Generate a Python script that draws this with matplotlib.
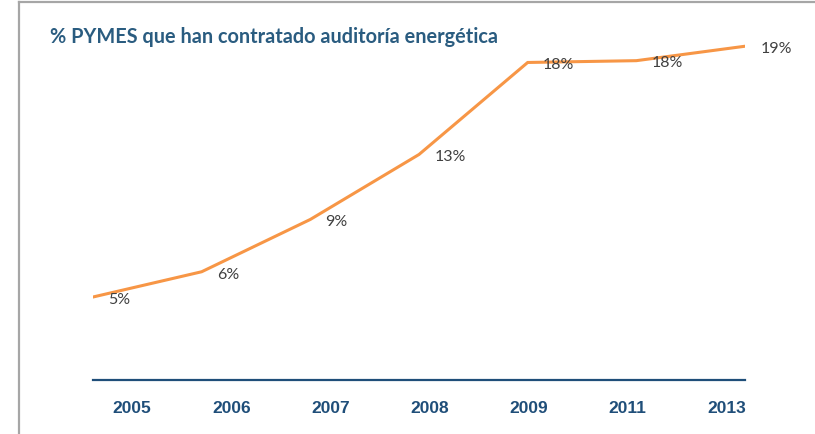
import matplotlib

matplotlib.use("Agg")
import matplotlib.pyplot as plt
import numpy as np
from matplotlib.lines import Line2D

years = ["2005", "2006", "2007", "2008", "2009", "2011", "2013"]
share = [5.0, 6.4, 9.3, 12.9, 18.0, 18.1, 18.9]
labels = ["5%", "6%", "9%", "13%", "18%", "18%", "19%"]

title = "% PYMES que han contratado auditoría energética"

W, H = 815, 434
fig = plt.figure(figsize=(W / 100, H / 100), dpi=100)
ax = fig.add_axes([93 / W, 1 - 380 / H, (745 - 93) / W, (380 - 30) / H])

x = np.arange(len(years))
ax.plot(x, share, color="#F79646", lw=2.2, solid_joinstyle="miter")

for xi, yi, lab in zip(x, share, labels):
    ax.annotate(lab, (xi, yi), xytext=(11, -2), textcoords="offset points",
                ha="left", va="center", fontsize=11.5, color="#404040",
                family="Lato")

ax.set_xlim(0, len(years) - 1)
ax.set_ylim(0.4, 19.8)

# category labels sit a bit off the data points, like the original
ax.set_xticks(np.linspace(0.36, 5.83, len(years)))
ax.set_xticklabels(years, fontsize=12.5, fontweight="bold", color="#1F4E79",
                   family="Liberation Sans")
ax.tick_params(axis="x", length=0, pad=15)
ax.set_yticks([])

for side in ["top", "right", "left"]:
    ax.spines[side].set_visible(False)
ax.spines["bottom"].set_color("#1F4E79")
ax.spines["bottom"].set_linewidth(1.6)

fig.text(50 / W, 1 - 37 / H, title, ha="left", va="center", fontsize=14.3,
         fontweight="bold", color="#2A5C80", family="Lato")

# gray frame at the left and top
fig.add_artist(Line2D([19 / W, 19 / W], [0, 1 - 2 / H], color="#A6A6A6", lw=1.6))
fig.add_artist(Line2D([19 / W, 1], [1 - 2 / H, 1 - 2 / H], color="#A6A6A6", lw=1.6))

fig.savefig("out.png", dpi=100)
